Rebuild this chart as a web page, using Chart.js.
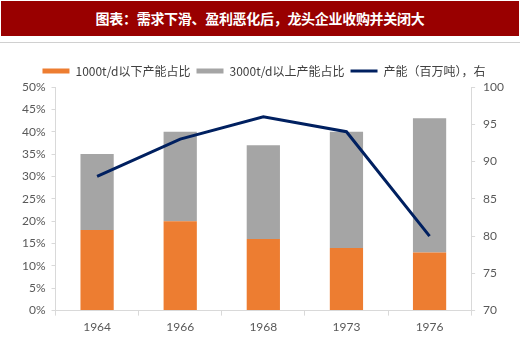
<!DOCTYPE html>
<html>
<head>
<meta charset="utf-8">
<script src="https://cdn.jsdelivr.net/npm/chart.js@4"></script>
<style>
  html, body { margin: 0; padding: 0; background: #ffffff; }
  #wrap { position: relative; width: 520px; height: 338px; overflow: hidden; }
  #banner { position: absolute; left: 1px; top: 1px; width: 518px; height: 35px; background: #990000;
    color: #ffffff; font-family: "Noto Sans CJK SC", sans-serif; font-weight: bold; font-size: 14px;
    line-height: 35px; text-align: center; letter-spacing: -0.3px; }
  #sep { position: absolute; left: 0; top: 42px; width: 520px; height: 1px; background: #d0d0d0; }
  #c { position: absolute; left: 0; top: 0; }
</style>
</head>
<body>
<div id="wrap">
  <div id="banner">图表：需求下滑、盈利恶化后，龙头企业收购并关闭大</div>
  <div id="sep"></div>
  <canvas id="c" width="520" height="338"></canvas>
</div>
<script>
const categories = ['1964', '1966', '1968', '1973', '1976'];
const seriesNames = ['1000t/d以下产能占比', '3000t/d以上产能占比', '产能（百万吨），右'];
const smallShare = [0.18, 0.20, 0.16, 0.14, 0.13];
const largeShare = [0.17, 0.20, 0.21, 0.26, 0.30];
const capacity = [88, 93, 96, 94, 80];
const leftTicks = [0, 0.05, 0.10, 0.15, 0.20, 0.25, 0.30, 0.35, 0.40, 0.45, 0.50];
const rightTicks = [70, 75, 80, 85, 90, 95, 100];

const tickFont = { family: 'Lato, "Open Sans", sans-serif', size: 12 };
const tickColor = '#595959';
const axisColor = '#d9d9d9';

new Chart(document.getElementById('c'), {
  data: {
    labels: categories,
    datasets: [
      { type: 'line', label: seriesNames[2], data: capacity, yAxisID: 'y2',
        borderColor: '#002060', backgroundColor: '#002060', borderWidth: 3,
        pointRadius: 0, tension: 0, order: 0, pointStyle: 'line' },
      { type: 'bar', label: seriesNames[0], data: smallShare, yAxisID: 'y',
        backgroundColor: '#ED7D31', stack: 's', order: 1,
        categoryPercentage: 1, barPercentage: 0.4, pointStyle: 'rect' },
      { type: 'bar', label: seriesNames[1], data: largeShare, yAxisID: 'y',
        backgroundColor: '#A5A5A5', stack: 's', order: 1,
        categoryPercentage: 1, barPercentage: 0.4, pointStyle: 'rect' }
    ]
  },
  options: {
    responsive: false,
    animation: false,
    layout: { padding: { top: 59, left: 16, right: 8, bottom: 0 } },
    plugins: {
      tooltip: { enabled: false },
      legend: {
        position: 'top',
        labels: {
          usePointStyle: true,
          pointStyleWidth: 27,
          boxHeight: 5,
          padding: 6,
          color: '#404040',
          font: { family: '"Noto Sans CJK SC", sans-serif', size: 12 },
          sort: (a, b) => {
            const ord = [1, 2, 0];
            return ord.indexOf(a.datasetIndex) - ord.indexOf(b.datasetIndex);
          },
          generateLabels: (chart) => chart.data.datasets.map((ds, i) => ({
            text: ds.label,
            datasetIndex: i,
            fillStyle: ds.backgroundColor,
            strokeStyle: ds.type === 'line' ? ds.borderColor : ds.backgroundColor,
            lineWidth: ds.type === 'line' ? 3 : 0,
            pointStyle: ds.type === 'line' ? 'line' : 'rect',
            fontColor: '#404040',
            hidden: false
          }))
        }
      }
    },
    scales: {
      x: {
        stacked: true,
        offset: true,
        grid: { offset: true, drawOnChartArea: false, drawTicks: true, tickLength: 5, color: axisColor },
        border: { color: axisColor },
        ticks: { color: tickColor, font: tickFont, padding: 4 }
      },
      y: {
        stacked: true,
        position: 'left',
        min: 0, max: 0.5,
        afterBuildTicks: (axis) => { axis.ticks = leftTicks.map(v => ({ value: v })); },
        grid: { drawOnChartArea: false, drawTicks: true, tickLength: 4, color: axisColor },
        border: { color: axisColor },
        ticks: { color: tickColor, font: tickFont, padding: 6,
          callback: (v) => Math.round(v * 100) + '%' }
      },
      y2: {
        position: 'right',
        min: 70, max: 100,
        afterBuildTicks: (axis) => { axis.ticks = rightTicks.map(v => ({ value: v })); },
        grid: { drawOnChartArea: false, drawTicks: true, tickLength: 4, color: axisColor },
        border: { color: axisColor },
        ticks: { color: tickColor, font: tickFont, padding: 8 }
      }
    }
  }
});
</script>
</body>
</html>
